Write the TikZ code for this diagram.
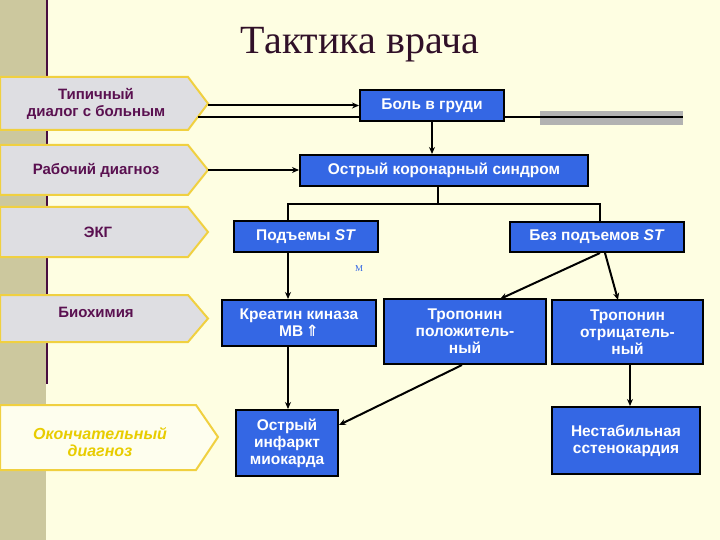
\documentclass[tikz,border=0pt]{standalone}
\usepackage{fontspec}
\setmainfont{Liberation Serif}
\newfontfamily\sansb{Liberation Sans}
\usetikzlibrary{arrows.meta}
\definecolor{bgc}{HTML}{FEFEE2}
\definecolor{stripc}{HTML}{CCC89E}
\definecolor{bluec}{HTML}{3467E4}
\definecolor{purp}{HTML}{5A1050}
\definecolor{titlec}{HTML}{301028}
\definecolor{marble}{HTML}{DEDEE2}
\definecolor{goldc}{HTML}{F0D040}
\definecolor{yelt}{HTML}{E8CC00}
\tikzset{
 bbox/.style={draw=black,line width=2pt,fill=bluec,text=white,font=\sansb\bfseries\fontsize{15.5}{17}\selectfont,align=center,inner sep=0pt},
 conn/.style={line width=2pt,-{Stealth[length=7pt,width=6pt]}},
 plain/.style={line width=2pt},
 tag/.style={draw=goldc,line width=2pt,fill=marble},
 tagtext/.style={text=purp,font=\sansb\bfseries\fontsize{15}{17}\selectfont,align=center}
}
\begin{document}
\begin{tikzpicture}[x=1pt,y=-1pt]
\useasboundingbox (0,0) rectangle (720,540);
\fill[bgc] (0,0) rectangle (720,540);
\fill[stripc] (0,0) rectangle (46,540);
\draw[purp!80!black,line width=2.5pt] (47,0) -- (47,384);
\node[font=\fontsize{40}{44}\selectfont,text=titlec] (title) at (360,45) {Тактика врача};
% left tags
\foreach \n/\ya/\yb in {t1/77/130,t2/145/195,t3/207/257,t4/295/342} {
  \draw[tag] (0,\ya) -- (188,\ya) -- (208,{(\ya+\yb)/2}) -- (188,\yb) -- (0,\yb) -- cycle;
  \coordinate (\n) at (208,{(\ya+\yb)/2});
}
\draw[goldc,line width=2pt,fill=bgc!60!white] (0,405) -- (196,405) -- (218,437) -- (196,470) -- (0,470) -- cycle;
\coordinate (t5) at (218,437);
\node[tagtext] (l1) at (96,104) {Типичный\\диалог с больным};
\node[tagtext] (l2) at (96,170) {Рабочий диагноз};
\node[tagtext] (l3) at (98,232) {ЭКГ};
\node[tagtext] (l4) at (96,312) {Биохимия};
\node[tagtext,text=yelt,font=\sansb\bfseries\itshape\fontsize{16}{17}\selectfont] (l5) at (100,442) {Окончательный\\диагноз};
% long line with gray bar
\fill[gray!60] (540,111) rectangle (683,125);
\coordinate (lineA) at (198,117);
\coordinate (lineB) at (683,117);
\draw[plain] (lineA) -- (lineB);
% blue boxes
\node[bbox,minimum width=144pt,minimum height=31pt] (pain) at (432,105.5) {Боль в груди};
\node[bbox,minimum width=288pt,minimum height=31pt] (acs) at (444,170.5) {Острый коронарный синдром};
\node[bbox,minimum width=144pt,minimum height=31pt] (st) at (306,236.5) {Подъемы \textit{ST}};
\node[bbox,minimum width=174pt,minimum height=30pt] (nost) at (597,237) {Без подъемов \textit{ST}};
\node[bbox,minimum width=154pt,minimum height=46pt] (ck) at (299,323) {Креатин киназа\\МВ\,{\fontspec{DejaVu Sans}⇑}};
\node[bbox,minimum width=162pt,minimum height=65pt] (tpos) at (465,331.5) {Тропонин\\положитель-\\ный};
\node[bbox,minimum width=151pt,minimum height=64pt] (tneg) at (627.5,332) {Тропонин\\отрицатель-\\ный};
\node[bbox,minimum width=102pt,minimum height=66pt] (ami) at (287,443) {Острый\\инфаркт\\миокарда};
\node[bbox,minimum width=148pt,minimum height=67pt] (ua) at (626,440.5) {Нестабильная\\сстенокардия};
\node[text=bluec,font=\fontsize{9}{9}\selectfont] (m) at (359,269) {M};
% connectors
\draw[conn] (t1 |- pain.west) -- (pain.west);
\draw[conn] (pain.south) -- (pain.south |- acs.north);
\draw[conn] (t2) -- (t2 -| acs.west);
\coordinate (jl) at (288,204);
\coordinate (jr) at (600,204);
\draw[plain] (acs.south -| 438,0) -- (438,204);
\draw[plain] (st.north -| jl) -- (jl) -- (jr) -- (nost.north -| jr);
\draw[conn] (st.south -| 288,0) -- (ck.north -| 288,0);
\draw[conn] (ck.south -| 288,0) -- (ami.north -| 288,0);
\draw[conn] (nost.south -| 600,0) -- (500,299);
\draw[conn] (nost.south -| 605,0) -- (618,300);
\draw[conn] (tpos.south -| 462,0) -- (ami.east |- 0,425);
\draw[conn] (tneg.south -| 630,0) -- (ua.north -| 630,0);
\end{tikzpicture}
\end{document}
